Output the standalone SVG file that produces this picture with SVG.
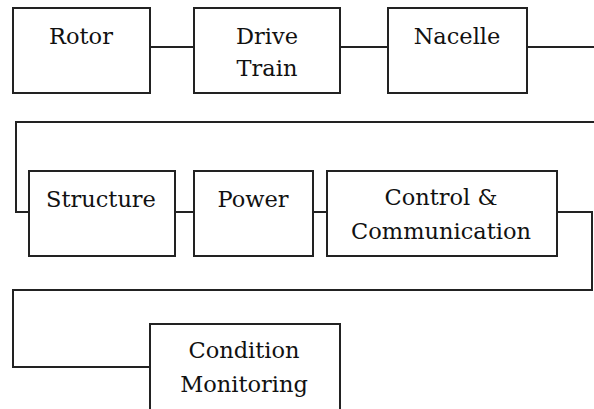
<svg xmlns="http://www.w3.org/2000/svg" width="594" height="409" viewBox="0 0 594 409">
<style>
.box{fill:#fff;stroke:#222;stroke-width:2}
.wire{fill:none;stroke:#222;stroke-width:2}
.t{font-family:'DejaVu Serif', 'Liberation Serif', serif;font-size:22.5px;fill:#111;text-anchor:middle}
</style>
<rect width="594" height="409" fill="#fff"/>
<g id="connectors">
<line class="wire" x1="150" y1="47" x2="194" y2="47"/>
<line class="wire" x1="340" y1="47" x2="388" y2="47"/>
<line class="wire" x1="527" y1="47" x2="594" y2="47"/>
<polyline class="wire" points="594,122 16,122 16,212 29,212"/>
<line class="wire" x1="175" y1="212" x2="194" y2="212"/>
<line class="wire" x1="313" y1="212" x2="327" y2="212"/>
<polyline class="wire" points="557,212 592,212 592,290 13,290 13,367 150,367"/>
</g>
<g id="rotor"><rect class="box" x="13" y="8" width="137" height="85"/><text class="t" x="81" y="44">Rotor</text></g>
<g id="drive-train"><rect class="box" x="194" y="8" width="146" height="85"/><text class="t" x="267" y="44">Drive</text><text class="t" x="267" y="76">Train</text></g>
<g id="nacelle"><rect class="box" x="388" y="8" width="139" height="85"/><text class="t" x="457" y="44">Nacelle</text></g>
<g id="structure"><rect class="box" x="29" y="171" width="146" height="85"/><text class="t" x="101" y="207">Structure</text></g>
<g id="power"><rect class="box" x="194" y="171" width="119" height="85"/><text class="t" x="253" y="207">Power</text></g>
<g id="control"><rect class="box" x="327" y="171" width="230" height="85"/><text class="t" x="441" y="205">Control &amp;</text><text class="t" x="441" y="239">Communication</text></g>
<g id="condition"><rect class="box" x="150" y="324" width="190" height="100"/><text class="t" x="244" y="358">Condition</text><text class="t" x="244" y="392">Monitoring</text></g>
</svg>
